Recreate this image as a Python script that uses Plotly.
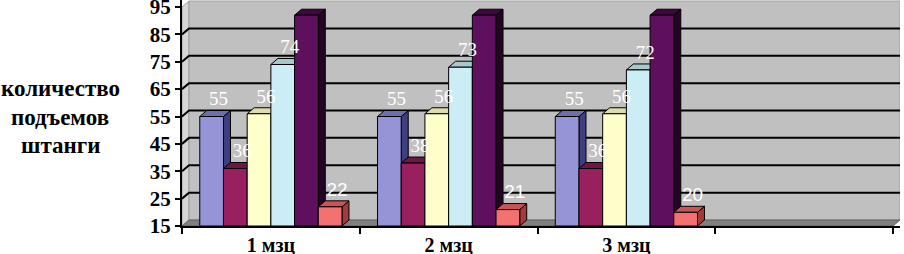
import plotly.graph_objects as go

categories = ["1 мзц", "2 мзц", "3 мзц", ""]
series_values = [
    [55, 55, 55],
    [36, 38, 36],
    [56, 56, 56],
    [74, 73, 72],
    [92, 92, 92],
    [22, 21, 20],
]
front_colors = ["#9494D6", "#99205F", "#FFFFCC", "#CCECF6", "#5E105E", "#F27272"]
side_colors = ["#3E3E80", "#4A0F2E", "#B8B890", "#90B0B8", "#240424", "#A03C3C"]
top_colors = ["#6E6EAE", "#6E1644", "#DCDCB0", "#A8C8CC", "#3E083E", "#C85656"]
SERIF = "Liberation Serif, Times New Roman, serif"
SANS = "Liberation Sans, Arial, sans-serif"
label_fonts = [SERIF] * 5 + [SANS]
y_ticks = [15, 25, 35, 45, 55, 65, 75, 85, 95]
y_title = ["количество", "подъемов", "штанги"]

Y0 = 15.0
YMAX = 95.0
N_CAT = len(categories)
# plot area geometry (pixels)
L, R, T, B = 182, 900, 0, 226
px_per_x = 177.75
px_per_y = (B - 7) / (YMAX - Y0)
x_range = [0, (R - L) / px_per_x]
y_range = [Y0, YMAX + 7 / px_per_y]
DX = 7 / px_per_x
DY = 6 / px_per_y
GROUP = 0.8
W = GROUP / len(series_values)

fig = go.Figure()

def poly(xs, ys, fill, line_color="black", lw=1):
    fig.add_trace(go.Scatter(x=xs, y=ys, mode="lines", fill="toself", fillcolor=fill,
                             line=dict(color=line_color, width=lw), hoverinfo="skip",
                             showlegend=False))

# left wall
poly([0, DX, DX, 0, 0], [Y0, Y0 + DY, YMAX + DY, YMAX, Y0], "#D6D6D6", "#A0A0A0", 1)
# back wall
poly([DX, N_CAT + DX, N_CAT + DX, DX, DX], [Y0 + DY, Y0 + DY, YMAX + DY, YMAX + DY, Y0 + DY],
     "#C0C0C0", "#A0A0A0", 1)
# floor
poly([0, N_CAT, N_CAT + DX, DX, 0], [Y0, Y0, Y0 + DY, Y0 + DY, Y0], "#808080", "#606060", 1)
# gridlines
gx, gy = [], []
for v in y_ticks[1:-1]:
    gx += [0, DX, N_CAT + DX, None]
    gy += [v, v + DY, v + DY, None]
fig.add_trace(go.Scatter(x=gx, y=gy, mode="lines", line=dict(color="black", width=2),
                         hoverinfo="skip", showlegend=False))

for j, vals in enumerate(series_values):
    sx, sy, tx, ty, fx, fy = [], [], [], [], [], []
    for i, v in enumerate(vals):
        x0 = i + (1 - GROUP) / 2 + j * W
        x1 = x0 + W
        sx += [x1, x1 + DX, x1 + DX, x1, x1, None]
        sy += [Y0, Y0 + DY, v + DY, v, Y0, None]
        tx += [x0, x1, x1 + DX, x0 + DX, x0, None]
        ty += [v, v, v + DY, v + DY, v, None]
        fx += [x0, x1, x1, x0, x0, None]
        fy += [Y0, Y0, v, v, Y0, None]
    for xs, ys, c in ((sx, sy, side_colors[j]), (tx, ty, top_colors[j]), (fx, fy, front_colors[j])):
        fig.add_trace(go.Scatter(x=xs, y=ys, mode="lines", fill="toself", fillcolor=c,
                                 line=dict(color="black", width=1), hoverinfo="skip",
                                 showlegend=False))

for j, vals in enumerate(series_values):
    xs = [i + (1 - GROUP) / 2 + j * W + W / 2 + DX for i in range(len(vals))]
    ys = [v + DY + 3.6 for v in vals]
    fig.add_trace(go.Scatter(x=xs, y=ys, mode="text", text=[str(v) for v in vals],
                             textposition="middle center", cliponaxis=False,
                             textfont=dict(family=label_fonts[j], size=19, color="white"),
                             hoverinfo="skip", showlegend=False))

fig.update_xaxes(range=x_range, tickmode="array",
                 tickvals=[i + 0.5 for i in range(N_CAT)], ticktext=categories,
                 ticks="", showline=True, linecolor="black", linewidth=2,
                 showgrid=False, zeroline=False, automargin=False,
                 tickfont=dict(family=SERIF, size=20, color="black", weight="bold"),
                 minor=dict(tickmode="array", tickvals=list(range(N_CAT + 1)), ticks="outside",
                            ticklen=6, tickwidth=2, tickcolor="black", showgrid=False))
fig.update_yaxes(range=y_range, tickmode="array", tickvals=y_ticks,
                 ticktext=[str(t) for t in y_ticks], ticks="outside", ticklen=5,
                 tickwidth=2, tickcolor="black", showline=True, linecolor="black",
                 linewidth=2, showgrid=False, zeroline=False, automargin=False,
                 ticklabeloverflow="allow",
                 tickfont=dict(family=SERIF, size=21, color="black", weight="bold"))

for k, line in enumerate(y_title):
    ypix = 89 + 28 * k
    fig.add_annotation(x=(60 - L) / (R - L), y=(B - ypix) / (B - T), xref="paper", yref="paper",
                       text=line, showarrow=False, xanchor="center", yanchor="middle",
                       font=dict(family=SERIF, size=23, color="black", weight="bold"))

fig.update_layout(width=904, height=254, margin=dict(l=L, r=904 - R, t=T, b=254 - B),
                  plot_bgcolor="white", paper_bgcolor="white", showlegend=False)

fig.write_html("out.html", config={"displayModeBar": False},
               post_script="document.body.style.margin='0';")
